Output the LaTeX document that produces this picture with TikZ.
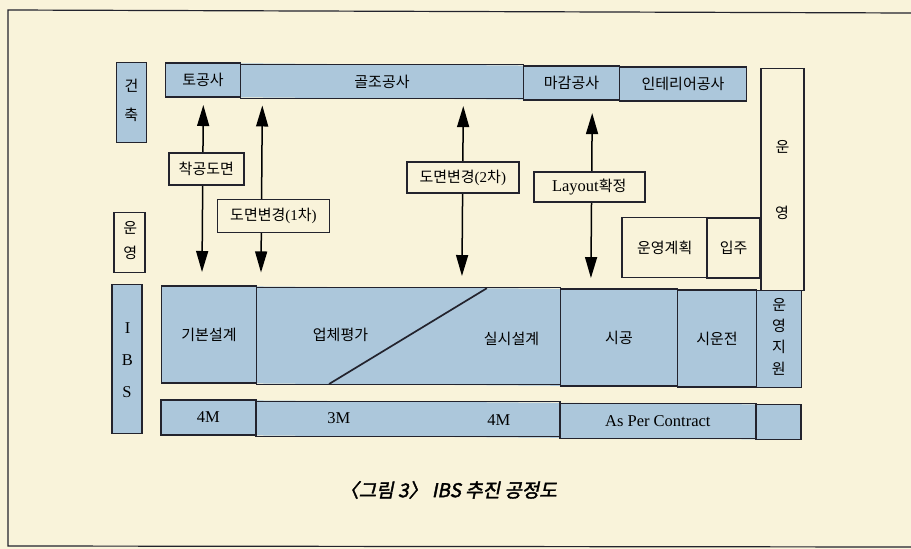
\documentclass[tikz,border=0pt]{standalone}
\usepackage{fontspec}
\setmainfont{Liberation Serif}
\newfontfamily\kr{Noto Sans CJK KR}
\newfontfamily\capfont[FakeSlant=0.2,FakeBold=2]{Noto Sans CJK KR}
\usetikzlibrary{arrows.meta}
\definecolor{paper}{RGB}{249,243,218}
\definecolor{boxblue}{RGB}{172,199,219}
\definecolor{linec}{RGB}{35,35,45}
\pgfdeclarelayer{bg}
\pgfsetlayers{bg,main}
\tikzset{
  cellline/.style={draw=linec,line width=1.7pt,inner sep=0pt,outer sep=0pt},
  lblbox/.style={draw=linec,line width=1.7pt,fill=paper,inner sep=0pt,outer sep=0pt},
  krt/.style={font=\kr\fontsize{15}{17}\selectfont},
  lat/.style={font=\rmfamily\fontsize{16.5}{18}\selectfont},
  dblarrow/.style={line width=1.5pt,draw=black,{Triangle[length=21pt,width=12pt]}-{Triangle[length=21pt,width=12pt]}}
}
% #1 fill colour, #2 extra style, #3 name, #4-#7 x1 y1 x2 y2, #8 text
\newcommand\cellnode[8]{%
  \begin{pgfonlayer}{bg}\fill[#1] (#4,#5) rectangle (#6,#7);\end{pgfonlayer}%
  \node[cellline,#2,minimum width={#6-#4},minimum height={#7-#5}] (#3) at ({(#4+#6)/2},{(#5+#7)/2}) {#8};}
\begin{document}
\begin{tikzpicture}[x=1pt,y=-1pt]
\begin{pgfonlayer}{bg}
\fill[paper] (0,0) rectangle (911,549);
\end{pgfonlayer}
\useasboundingbox (0,0) rectangle (911,549);
% page frame
\coordinate (f1) at (911,13);
\coordinate (f2) at (8,10);
\coordinate (f3) at (8,546);
\coordinate (f4) at (911,547);
\draw[linec,line width=1.2pt] (f1) -- (f2) -- (f3) -- (f4);
\begin{scope}[rotate around={-0.45:(455,275)}]
% top bar
\cellnode{boxblue}{krt}{tg}{164}{65}{239}{99}{토공사}
\cellnode{boxblue}{krt}{gj}{239}{65}{522}{99}{골조공사}
\cellnode{boxblue}{krt}{mg}{522}{65}{618}{99}{마감공사}
\cellnode{boxblue}{krt}{it}{618}{65}{745}{99}{인테리어공사}
% left column
\cellnode{boxblue}{}{gc}{115}{65}{145}{145}{}
\node[krt] (gc1) at (130,88) {건};
\node[krt] (gc2) at (130,117) {축};
\cellnode{paper}{}{uyl}{114}{215}{145}{275}{}
\node[krt] (uyl1) at (130,230) {운};
\node[krt] (uyl2) at (130,255) {영};
\cellnode{boxblue}{}{ibs}{113}{287}{143}{436}{}
\node[lat] (ibs1) at (128,331) {I};
\node[lat] (ibs2) at (128,363) {B};
\node[lat] (ibs3) at (128,395) {S};
% right operation
\cellnode{paper}{}{uyr}{760}{66}{803}{288}{}
\node[krt] (uyr1) at (781.5,144) {운};
\node[krt] (uyr2) at (781.5,210) {영};
\cellnode{paper}{krt}{uyp}{622}{216}{707}{276}{운영계획}
\cellnode{paper}{krt}{ij}{707}{216}{760}{276}{입주}
% main process row
\cellnode{boxblue}{krt}{gb}{162}{288}{257}{385}{기본설계}
\cellnode{boxblue}{}{ue}{257}{288}{561}{385}{}
\coordinate (dg1) at (330,385);
\coordinate (dg2) at (487,288);
\draw[linec,line width=1.7pt] (dg1) -- (dg2);
\node[krt] (ue1) at (341,336) {업체평가};
\node[krt] (ue2) at (512,338) {실시설계};
\cellnode{boxblue}{krt}{sg}{561}{288}{678}{385}{시공}
\cellnode{boxblue}{krt}{sw}{678}{288}{757}{385}{시운전}
\cellnode{boxblue}{}{uj}{757}{288}{802}{385}{}
\node[krt] (uj1) at (779.5,302.5) {운};
\node[krt] (uj2) at (779.5,323) {영};
\node[krt] (uj3) at (779.5,344) {지};
\node[krt] (uj4) at (779.5,366) {원};
% duration row
\cellnode{boxblue}{lat}{m4a}{162}{402}{257}{437}{4M}
\cellnode{boxblue}{}{m34}{257}{402}{561}{437}{}
\node[lat] (m3) at (340,419.5) {3M};
\node[lat] (m4b) at (500,420) {4M};
\cellnode{boxblue}{lat}{apc}{561}{402}{757}{437}{As Per Contract}
\cellnode{boxblue}{}{blank}{757}{402}{802}{437}{}
% arrows (label boxes cover them)
\coordinate (a1t) at (202,107); \coordinate (a1b) at (202,274);
\coordinate (a2t) at (261,107); \coordinate (a2b) at (261,274);
\coordinate (a3t) at (462,106); \coordinate (a3b) at (462,276);
\coordinate (a4t) at (591,112); \coordinate (a4b) at (591,277);
\draw[dblarrow] (a1t) -- (a1b);
\draw[dblarrow] (a2t) -- (a2b);
\draw[dblarrow] (a3t) -- (a3b);
\draw[dblarrow] (a4t) -- (a4b);
% labels on arrows
\node[lblbox,krt,minimum width=75,minimum height=32] (cg) at (205.5,171) {착공도면};
\node[lblbox,krt,minimum width=112,minimum height=33] (db1) at (273,217.5) {도면변경{\rmfamily (1}차{\rmfamily )}};
\node[lblbox,krt,minimum width=112,minimum height=31] (db2) at (462,177.5) {도면변경{\rmfamily (2}차{\rmfamily )}};
\node[lblbox,krt,minimum width=111,minimum height=30] (lay) at (588.5,186) {{\rmfamily\fontsize{16.5}{18}\selectfont Layout}확정};
% caption
\node[font=\capfont\fontsize{19}{21}\selectfont] (cap) at (450,490) {〈그림 3〉 IBS 추진 공정도};
\end{scope}
\end{tikzpicture}
\end{document}
